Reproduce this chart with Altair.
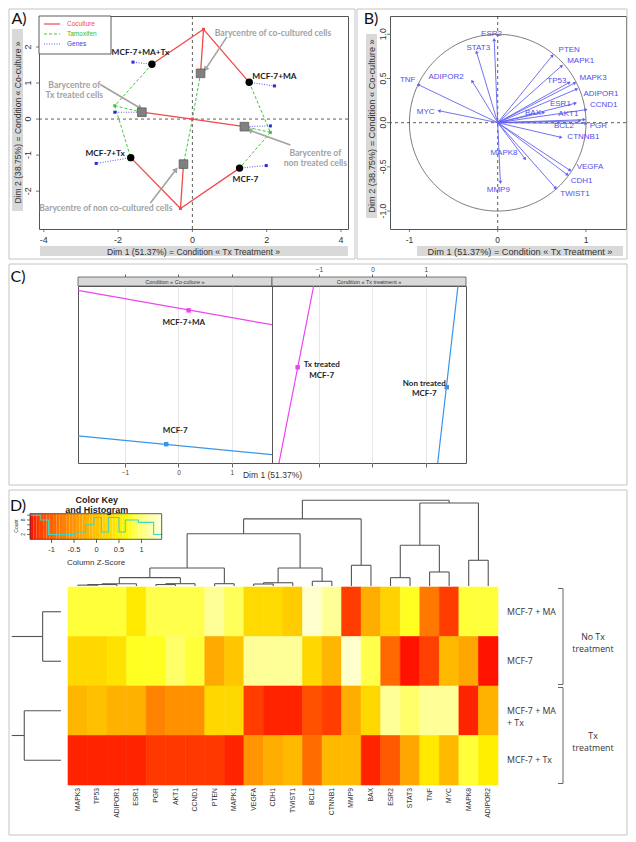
import math
import altair as alt
import numpy as np
import pandas as pd

AXF = "Liberation Sans"
LBF = "Lato"
OSF = "Open Sans"

# ---------------- Panel A : MFA map of the four conditions ----------------
cond_names = ["MCF-7+MA+Tx", "MCF-7+MA", "MCF-7+Tx", "MCF-7"]
cond_x = [-1.09, 1.53, -1.66, 1.27]
cond_y = [1.52, 1.02, -1.07, -1.36]
cond_lab_x = [-1.40, 2.21, -2.35, 1.43]
cond_lab_y = [1.84, 1.17, -0.96, -1.69]

bary_names = ["co-cultured", "Tx treated", "non treated", "non co-cultured"]
bary_x = [0.22, -1.36, 1.40, -0.24]
bary_y = [1.27, 0.19, -0.21, -1.25]

cocult_names = ["cc top", "cc bottom", "origin"]
cocult_x = [0.30, -0.32, 0.0]
cocult_y = [2.49, -2.48, 0.0]

tamox_names = ["tam left", "tam right"]
tamox_x = [-2.09, 2.10]
tamox_y = [0.37, -0.37]

genes_pt_names = ["g1", "g2", "g3", "g4", "g5", "g6"]
genes_pt_x = [-1.60, 2.21, -2.59, 1.99, -2.09, 2.10]
genes_pt_y = [1.58, 0.92, -1.23, -1.29, 0.19, -0.19]
genes_pt_from = ["MCF-7+MA+Tx", "MCF-7+MA", "MCF-7+Tx", "MCF-7", "Tx treated", "non treated"]

coculture_links = [("MCF-7+MA+Tx", "cc top"), ("cc top", "MCF-7+MA"), ("cc top", "co-cultured"),
                   ("MCF-7+Tx", "cc bottom"), ("cc bottom", "MCF-7"), ("cc bottom", "non co-cultured"),
                   ("Tx treated", "origin"), ("origin", "non treated")]
tamoxifen_links = [("MCF-7+MA+Tx", "tam left"), ("tam left", "MCF-7+Tx"), ("tam left", "Tx treated"),
                   ("MCF-7+MA", "tam right"), ("tam right", "MCF-7"), ("tam right", "non treated"),
                   ("co-cultured", "origin"), ("origin", "non co-cultured")]

annot_text = ["Barycentre of co-cultured cells", "Barycentre of\nTx treated cells",
              "Barycentre of\nnon treated cells", "Barycentre of non co-cultured cells"]
annot_x = [2.17, -3.18, 3.31, -2.33]
annot_y = [2.39, 0.94, -0.93, -2.46]
arrow_tail_x = [0.93, -2.48, 2.64, -1.13]
arrow_tail_y = [2.28, 0.96, -0.72, -2.33]
arrow_head_x = [0.35, -1.40, 1.54, -0.44]
arrow_head_y = [1.38, 0.30, -0.31, -1.40]

legend_names = ["Coculture", "Tamoxifen", "Genes"]
tickA_x = [-4, -2, 0, 2, 4]
tickA_y = [-2, -1, 0, 1, 2]

# ---------------- Panel B : correlation circle ----------------
b_genes = ["ESR2", "STAT3", "TNF", "ADIPOR2", "MYC", "PTEN", "MAPK1", "TP53", "MAPK3", "ADIPOR1",
           "CCND1", "ESR1", "BAX", "AKT1", "BCL2", "PGR", "CTNNB1", "MAPK8", "MMP9", "VEGFA",
           "CDH1", "TWIST1"]
b_x = [-0.04, -0.24, -0.90, -0.29, -0.665, 0.62, 0.725, 0.81, 0.875, 0.895,
       1.00, 0.88, 0.52, 0.98, 0.93, 1.00, 0.717, 0.31, 0.03, 0.82,
       0.79, 0.657]
b_y = [0.94, 0.80, 0.43, 0.47, 0.135, 0.76, 0.644, 0.455, 0.45, 0.38,
       0.147, 0.22, 0.116, 0.034, 0.02, -0.008, -0.166, -0.41, -0.675, -0.54,
       -0.59, -0.742]
b_lab_x = [-0.07, -0.22, -1.02, -0.585, -0.815, 0.81, 0.94, 0.67, 1.08, 1.17,
           1.20, 0.71, 0.40, 0.80, 0.75, 1.14, 0.97, 0.071, 0.007, 1.045,
           0.95, 0.875]
b_lab_y = [1.00, 0.85, 0.48, 0.52, 0.124, 0.82, 0.70, 0.47, 0.505, 0.33,
           0.20, 0.21, 0.11, 0.10, -0.034, -0.034, -0.166, -0.347, -0.76, -0.505,
           -0.66, -0.805]
tickB_x = [-1, 0, 1]
tickB_y = [-1.0, -0.5, 0.0, 0.5, 1.0]

# ---------------- Panel C : partial axes per condition ----------------
cc_names = ["MCF-7+MA", "MCF-7"]
cc_pt_x = [0.19, -0.23]
cc_pt_y = [1.21, -1.21]
cc_line_x1 = [-1.88, -1.88]
cc_line_y1 = [1.57, -1.06]
cc_line_x2 = [1.75, 1.75]
cc_line_y2 = [0.95, -1.40]
cc_lab_x = [0.10, -0.06]
cc_lab_y = [0.99, -0.98]

tx_names = ["Tx treated\nMCF-7", "Non treated\nMCF-7"]
tx_pt_x = [-1.40, 1.39]
tx_pt_y = [0.18, -0.18]
tx_line_x1 = [-1.10, 1.60]
tx_line_y1 = [1.65, 1.65]
tx_line_x2 = [-1.75, 1.22]
tx_line_y2 = [-1.55, -1.55]
tx_lab_x = [-0.95, 0.97]
tx_lab_y = [0.215, -0.12]

# ---------------- Panel D : heatmap ----------------
genes = ["MAPK3", "TP53", "ADIPOR1", "ESR1", "PGR", "AKT1", "CCND1", "PTEN", "MAPK1", "VEGFA",
         "CDH1", "TWIST1", "BCL2", "CTNNB1", "MMP9", "BAX", "ESR2", "STAT3", "TNF", "MYC",
         "MAPK8", "ADIPOR2"]
rows = ["MCF-7 + MA", "MCF-7", "MCF-7 + MA\n+ Tx", "MCF-7 + Tx"]
z_ma = [0.80, 0.80, 0.80, 0.45, 0.85, 0.85, 0.85, 1.15, 0.90, 0.27,
        0.27, 0.11, 1.40, 1.15, -1.27, -0.24, 0.18, 0.75, -0.79, -1.27,
        0.80, 0.80]
z_mcf7 = [0.25, 0.25, 0.38, 0.75, 0.75, 0.95, 0.80, -0.27, 0.04, 1.15,
          1.15, 1.15, 0.25, -0.14, 1.40, 0.85, -0.93, -1.45, -1.25, -0.10,
          -0.31, -1.45]
z_ma_tx = [-0.14, -0.03, -0.20, -0.20, -0.68, -0.55, -0.55, 0.25, 0.25, -1.27,
           -1.40, -1.40, -1.13, -1.27, -0.24, 0.25, 1.15, 0.95, 1.15, 1.15,
           -1.40, -0.17]
z_tx = [-1.40, -1.40, -1.40, -1.40, -1.30, -1.30, -1.30, -1.30, -1.40, -0.50,
        -0.24, -0.10, -0.90, -0.10, -0.10, -1.40, -1.06, -0.31, 0.45, -0.10,
        0.80, 0.52]
z_rows = [z_ma, z_mcf7, z_ma_tx, z_tx]

col_merges = [("MAPK3", "TP53", 0.10), ("m0", "ADIPOR1", 0.17), ("m1", "ESR1", 0.27),
              ("PGR", "AKT1", 0.17), ("m3", "CCND1", 0.27), ("m2", "m4", 0.97),
              ("PTEN", "MAPK1", 0.27), ("m5", "m6", 2.09), ("VEGFA", "CDH1", 0.23),
              ("m8", "TWIST1", 0.38), ("BCL2", "CTNNB1", 0.55), ("m9", "m10", 2.10),
              ("m7", "m11", 6.08), ("MMP9", "BAX", 2.41), ("m12", "m13", 7.80),
              ("ESR2", "STAT3", 0.97), ("TNF", "MYC", 1.63), ("m15", "m16", 4.73),
              ("MAPK8", "ADIPOR2", 2.99), ("m17", "m18", 9.65), ("m14", "m19", 9.97)]
row_merges = [("MCF-7 + MA", "MCF-7", 1.9), ("MCF-7 + MA\n+ Tx", "MCF-7 + Tx", 3.8)]
row_root = 5.1
row_groups = [("No Tx\ntreatment", ["MCF-7 + MA", "MCF-7"]),
              ("Tx\ntreatment", ["MCF-7 + MA\n+ Tx", "MCF-7 + Tx"])]

key_lo, key_mid, key_hi = -1.48, 0.72, 1.45
key_ticks = [-1, -0.5, 0, 0.5, 1]
hist_edges = [-1.47, -1.24, -1.07, -0.47, -0.24, -0.06, 0.11, 0.27, 0.50, 0.64, 0.93, 1.27, 1.46]
hist_counts = [10, 8, 2, 3, 6, 9, 3, 9, 3, 8, 7, 2]
count_ticks = [2, 4, 6, 8, 10]

# ====================== helpers ======================
one = pd.DataFrame({"k": [0]})


def qs(dom, rng=None):
    if rng is None:
        return alt.Scale(domain=dom, nice=False, zero=False)
    return alt.Scale(domain=dom, range=rng, nice=False, zero=False)


def box(x1, x2, y1, y2, **mk):
    return alt.Chart(one).mark_rect(**mk).encode(
        x=alt.value(x1), x2=alt.value(x2), y=alt.value(y1), y2=alt.value(y2))


def hline(x1, x2, y, **mk):
    return alt.Chart(one).mark_rule(**mk).encode(x=alt.value(x1), x2=alt.value(x2), y=alt.value(y))


def T(txt, x, y, size=9, color="#222222", font=AXF, weight="normal", align="center",
      baseline="middle", angle=0):
    kw = dict(text=txt, fontSize=size, color=color, font=font, fontWeight=weight,
              align=align, baseline=baseline)
    if angle:
        kw["angle"] = angle
    return alt.Chart(one).mark_text(**kw).encode(x=alt.value(x), y=alt.value(y))


def head_angle(dx, dy, sx, sy):
    return (math.degrees(math.atan2(dx * sx, dy * sy)) + 360.0) % 360.0


def tick_layers(xenc, yenc, xvals, yvals, xlabels, ylabels, height, size, xlab_off, ylab_off):
    """ticks and tick labels drawn through the panel's own x / y scales"""
    return [
        alt.Chart(pd.DataFrame({"x": xvals})).mark_rule(color="#555555", strokeWidth=0.8).encode(
            x=xenc(), y=alt.value(height), y2=alt.value(height + 3)),
        alt.Chart(pd.DataFrame({"x": xvals, "t": xlabels})).mark_text(
            font=AXF, fontSize=size, color="#333333").encode(
            x=xenc(), y=alt.value(height + xlab_off), text="t:N"),
        alt.Chart(pd.DataFrame({"y": yvals})).mark_rule(color="#555555", strokeWidth=0.8).encode(
            y=yenc(), x=alt.value(-3), x2=alt.value(0)),
        alt.Chart(pd.DataFrame({"y": yvals, "t": ylabels})).mark_text(
            font=AXF, fontSize=size, color="#333333", angle=270).encode(
            y=yenc(), x=alt.value(-ylab_off), text="t:N"),
    ]


RED, GREEN, BLUEA = "#EF4A4A", "#3CC83C", "#5A5AF5"
ANN = "#A2A2A2"
FRAME = "#C4C4C4"
TITLEBOX = "#D9D9D9"
DIM1 = "Dim 1 (51.37%) = Condition « Tx Treatment »"
DIM2 = "Dim 2 (38.75%) = Condition « Co-culture »"

# ====================== Panel A ======================
WA, HA = 309, 213
XA_DOM, YA_DOM = [-4.13, 4.19], [-3.05, 2.86]
sxA = WA / (XA_DOM[1] - XA_DOM[0])
syA = HA / (YA_DOM[1] - YA_DOM[0])


def xA():
    return alt.X("x:Q", scale=qs(XA_DOM), axis=None)


def yA():
    return alt.Y("y:Q", scale=qs(YA_DOM), axis=None)


ptsA = {}
for nm, xs, ys in ((cond_names, cond_x, cond_y), (bary_names, bary_x, bary_y),
                   (cocult_names, cocult_x, cocult_y), (tamox_names, tamox_x, tamox_y),
                   (genes_pt_names, genes_pt_x, genes_pt_y)):
    for n, px, py in zip(nm, xs, ys):
        ptsA[n] = (px, py)


def links_df(pairs):
    return pd.DataFrame([{"x": ptsA[a][0], "y": ptsA[a][1], "x2": ptsA[b][0], "y2": ptsA[b][1]}
                         for a, b in pairs])


def rulesA(df, **mk):
    return alt.Chart(df).mark_rule(**mk).encode(x=xA(), y=yA(), x2=alt.X2("x2"), y2=alt.Y2("y2"))


def ptsA_layer(xs, ys, **mk):
    return alt.Chart(pd.DataFrame({"x": xs, "y": ys})).mark_point(**mk).encode(x=xA(), y=yA())


arrows_df = pd.DataFrame({"x": arrow_tail_x, "y": arrow_tail_y, "x2": arrow_head_x, "y2": arrow_head_y})
heads_df = pd.DataFrame({
    "x": arrow_head_x, "y": arrow_head_y,
    "ang": [head_angle(hx - tx, hy - ty, sxA, syA)
            for tx, ty, hx, hy in zip(arrow_tail_x, arrow_tail_y, arrow_head_x, arrow_head_y)]})

A = alt.layer(
    box(-30, 316, -7, 243, fill="transparent", stroke=FRAME, strokeWidth=1),
    box(-27, -16, 13, 195, fill=TITLEBOX),
    box(1, 309, 230, 240, fill=TITLEBOX),
    T(DIM1, WA / 2, 235.5, size=8.6, color="#333333"),
    T(DIM2, -21.5, HA / 2, size=8.6, color="#333333", angle=270),
    *tick_layers(xA, yA, tickA_x, tickA_y, [str(v) for v in tickA_x], [str(v) for v in tickA_y],
                 HA, 9, 11, 11.5),
    alt.Chart(pd.DataFrame({"x": [0]})).mark_rule(color="#333333", strokeDash=[3, 3], strokeWidth=0.8).encode(x=xA()),
    alt.Chart(pd.DataFrame({"y": [0]})).mark_rule(color="#333333", strokeDash=[3, 3], strokeWidth=0.8).encode(y=yA()),
    rulesA(links_df(tamoxifen_links), color=GREEN, strokeDash=[3, 2], strokeWidth=1),
    rulesA(links_df(list(zip(genes_pt_from, genes_pt_names))), color=BLUEA, strokeDash=[1, 1.5], strokeWidth=1),
    rulesA(links_df(coculture_links), color=RED, strokeWidth=1.3),
    rulesA(arrows_df, color=ANN, strokeWidth=1.6),
    alt.Chart(heads_df).mark_point(shape="triangle-up", filled=True, size=38, color=ANN, opacity=1).encode(
        x=xA(), y=yA(), angle=alt.Angle("ang:Q", scale=None)),
    ptsA_layer(cocult_x, cocult_y, shape="square", filled=True, size=9, color=RED, opacity=1),
    ptsA_layer(tamox_x, tamox_y, shape="square", filled=True, size=9, color=GREEN, opacity=1),
    ptsA_layer(genes_pt_x, genes_pt_y, shape="square", filled=True, size=9, color="#2B2BE0", opacity=1),
    alt.Chart(pd.DataFrame({"x": bary_x, "y": bary_y})).mark_square(
        size=75, color="#808080", stroke="#5E5E5E", strokeWidth=0.8, opacity=1).encode(x=xA(), y=yA()),
    ptsA_layer(cond_x, cond_y, shape="circle", filled=True, size=55, color="black", opacity=1),
    alt.Chart(pd.DataFrame({"x": cond_lab_x, "y": cond_lab_y, "t": cond_names})).mark_text(
        font=LBF, fontSize=8.3, fontWeight="bold", color="#1A1A1A").encode(x=xA(), y=yA(), text="t:N"),
    alt.Chart(pd.DataFrame({"x": annot_x, "y": annot_y, "t": annot_text})).mark_text(
        font=LBF, fontSize=8.6, fontWeight="bold", color=ANN, lineBreak="\n", lineHeight=10).encode(
        x=xA(), y=yA(), text="t:N"),
    box(0, 72, 0, 38, fill="white", stroke="#333333", strokeWidth=0.8),
    hline(5, 21, 8, color=RED, strokeWidth=1.2),
    hline(5, 21, 18, color=GREEN, strokeWidth=1, strokeDash=[3, 2]),
    hline(5, 21, 28, color=BLUEA, strokeWidth=1, strokeDash=[1, 1.5]),
    T(legend_names[0], 28, 8, size=6.5, color=RED, align="left"),
    T(legend_names[1], 28, 18, size=6.5, color="#33BB33", align="left"),
    T(legend_names[2], 28, 28, size=6.5, color="#3A3AE8", align="left"),
    T("A)", -20, 3, size=16, font=LBF, color="#111111"),
).properties(width=WA, height=HA, view=alt.ViewBackground(stroke="#555555", strokeWidth=1))

# ====================== Panel B ======================
WB, HB = 236, 213
XB_DOM, YB_DOM = [-1.22, 1.453], [-1.203, 1.207]
sxB = WB / (XB_DOM[1] - XB_DOM[0])
syB = HB / (YB_DOM[1] - YB_DOM[0])
BARROW, BLAB = "#6262F0", "#5050EA"


def xB():
    return alt.X("x:Q", scale=qs(XB_DOM), axis=None)


def yB():
    return alt.Y("y:Q", scale=qs(YB_DOM), axis=None)


t_circ = np.linspace(0, 2 * np.pi, 241)
circle_df = pd.DataFrame({"x": np.cos(t_circ), "y": np.sin(t_circ), "i": np.arange(len(t_circ))})
barrow_df = pd.DataFrame({"x": [0.0] * len(b_x), "y": [0.0] * len(b_y), "x2": b_x, "y2": b_y})
bhead_df = pd.DataFrame({"x": b_x, "y": b_y,
                         "ang": [head_angle(gx, gy, sxB, syB) for gx, gy in zip(b_x, b_y)]})

B = alt.layer(
    box(-33, 237, -7, 243, fill="transparent", stroke=FRAME, strokeWidth=1),
    box(-24, -13, 18, 202, fill=TITLEBOX),
    box(27, 233, 230, 240, fill=TITLEBOX),
    T(DIM1, 130, 235.5, size=9.2, color="#333333"),
    T(DIM2, -18.5, 110, size=9.2, color="#333333", angle=270),
    *tick_layers(xB, yB, tickB_x, tickB_y, [str(v) for v in tickB_x], [f"{v:.1f}" for v in tickB_y],
                 HB, 8.5, 11, 7.5),
    alt.Chart(circle_df).mark_line(color="#7A7A7A", strokeWidth=1).encode(x=xB(), y=yB(), order="i:Q"),
    alt.Chart(pd.DataFrame({"x": [0]})).mark_rule(color="#333333", strokeDash=[3, 3], strokeWidth=0.8).encode(x=xB()),
    alt.Chart(pd.DataFrame({"y": [0]})).mark_rule(color="#333333", strokeDash=[3, 3], strokeWidth=0.8).encode(y=yB()),
    alt.Chart(barrow_df).mark_rule(color=BARROW, strokeWidth=0.9).encode(
        x=xB(), y=yB(), x2=alt.X2("x2"), y2=alt.Y2("y2")),
    alt.Chart(bhead_df).mark_point(shape="triangle-up", filled=True, size=14, color=BARROW, opacity=1).encode(
        x=xB(), y=yB(), angle=alt.Angle("ang:Q", scale=None)),
    alt.Chart(pd.DataFrame({"x": b_lab_x, "y": b_lab_y, "t": b_genes})).mark_text(
        font=AXF, fontSize=8, color=BLAB).encode(x=xB(), y=yB(), text="t:N"),
    T("B)", -19, 3, size=16, font=LBF, color="#111111"),
).properties(width=WB, height=HB, view=alt.ViewBackground(stroke="#555555", strokeWidth=1))

# ====================== Panel C ======================
WC, HC = 194, 177
XC_DOM, YC_DOM = [-1.88, 1.75], [-1.55, 1.65]
MAG, CBL = "#EE44EE", "#3A95E8"
GRID = "#E6E6E6"

common_ax = dict(labelFont=AXF, labelFontSize=6.5, labelColor="#444444", tickColor="#666666",
                 domain=False, gridColor=GRID)
axC_xb = alt.Axis(values=[-1, 0, 1], title="Dim 1 (51.37%)", titleX=WC, titleY=11,
                  titleAlign="center", titleBaseline="middle", titleFont=AXF, titleFontSize=8.5,
                  titleFontWeight="normal", titleColor="#333333", tickSize=4, labelPadding=2,
                  grid=True, **common_ax)
axC_yl = alt.Axis(values=[-1.5, -1, -0.5, 0, 0.5, 1, 1.5],
                  labelExpr="datum.value < -1.4 ? '' : format(datum.value, '.1f')",
                  title="Dim 2 (38.75%)", titleX=-26, titleY=76, titleAngle=270, titleAlign="center",
                  titleBaseline="middle", titleFont=AXF, titleFontSize=8.5, titleFontWeight="normal",
                  titleColor="#333333", tickSize=4, labelPadding=2, grid=True, **common_ax)
axC_xt_nolab = alt.Axis(orient="top", offset=9, values=[-1, 0, 1], labels=False, tickSize=3,
                        grid=False, title=None, **common_ax)
axC_xt_lab = alt.Axis(orient="top", offset=9, values=[-1, 0, 1], tickSize=3, labelPadding=2,
                      grid=False, title=None, **common_ax)
axC_xb_nolab = alt.Axis(values=[-1, 0, 1], labels=False, tickSize=4, grid=True, title=None, **common_ax)
axC_yr = alt.Axis(orient="right", values=[-1.5, -1, -0.5, 0, 0.5, 1, 1.5], labels=False, tickSize=4,
                  grid=True, title=None, **common_ax)


def xC(axis=None):
    return alt.X("x:Q", scale=qs(XC_DOM), axis=axis)


def yC(axis=None):
    return alt.Y("y:Q", scale=qs(YC_DOM), axis=axis)


def c_panel(strip, names, px, py, lx1, ly1, lx2, ly2, labx, laby, axx, axy, axx2, extra):
    lines = pd.DataFrame({"x": lx1, "y": ly1, "x2": lx2, "y2": ly2, "c": [MAG, CBL]})
    pts = pd.DataFrame({"x": px, "y": py, "c": [MAG, CBL]})
    labs = pd.DataFrame({"x": labx, "y": laby, "t": names})
    layers = list(extra) + [
        box(0, WC, -9, 0, fill=TITLEBOX, stroke="#555555", strokeWidth=0.8),
        T(strip, WC / 2, -4.5, size=5.5, color="#333333"),
        alt.Chart(lines).mark_rule(strokeWidth=1.2, clip=True).encode(
            x=xC(axx), y=yC(axy), x2=alt.X2("x2"), y2=alt.Y2("y2"),
            color=alt.Color("c:N", scale=None, legend=None)),
        alt.Chart(pts).mark_square(size=20, opacity=1).encode(
            x=xC(axx2), y=yC(), color=alt.Color("c:N", scale=None, legend=None)),
        alt.Chart(labs).mark_text(font=LBF, fontSize=8, fontWeight="bold", color="#1E1E1E",
                                  lineBreak="\n", lineHeight=10.5).encode(x=xC(), y=yC(), text="t:N"),
    ]
    return alt.layer(*layers).resolve_axis(x="independent").properties(
        width=WC, height=HC, view=alt.ViewBackground(stroke="#555555", strokeWidth=1))


C_left = c_panel("Condition « Co-culture »", cc_names, cc_pt_x, cc_pt_y, cc_line_x1, cc_line_y1,
                 cc_line_x2, cc_line_y2, cc_lab_x, cc_lab_y, axC_xb, axC_yl, axC_xt_nolab,
                 [box(-69, 549, -22, 199, fill="transparent", stroke=FRAME, strokeWidth=1),
                  T("C)", -60, -9, size=16, font=LBF, color="#111111")])
C_right = c_panel("Condition « Tx treatment »", tx_names, tx_pt_x, tx_pt_y, tx_line_x1, tx_line_y1,
                  tx_line_x2, tx_line_y2, tx_lab_x, tx_lab_y, axC_xb_nolab, axC_yr, axC_xt_lab, [])

# ====================== Panel D ======================
WD, HD = 430, 285
HEAT_TOP = 87
ncol = len(genes)
heat_color = alt.Scale(domain=[key_lo, key_mid, key_hi], range=["#FF0000", "#FFFF00", "#FFFFD8"])


def xH():
    return alt.X("x:Q", scale=qs([0, ncol], [0, WD]), axis=None)


def yH(f="y"):
    return alt.Y(f + ":Q", scale=qs([0, 4], [HD, HEAT_TOP]), axis=None)


heat_recs = []
for r, (rn, zr) in enumerate(zip(rows, z_rows)):
    for i, (g, zv) in enumerate(zip(genes, zr)):
        heat_recs.append({"x": i, "x2": i + 1, "y": 3 - r, "y2": 4 - r, "z": zv})
heat_df = pd.DataFrame(heat_recs)

# column dendrogram segments from merge heights
node_x = {g: i + 0.5 for i, g in enumerate(genes)}
node_h = {g: 0.0 for g in genes}
cseg = []
for k, (a, b, h) in enumerate(col_merges):
    xa, xb = node_x[a], node_x[b]
    cseg.append({"x": xa, "x2": xb, "y": h, "y2": h})
    cseg.append({"x": xa, "x2": xa, "y": node_h[a], "y2": h})
    cseg.append({"x": xb, "x2": xb, "y": node_h[b], "y2": h})
    node_x[f"m{k}"] = (xa + xb) / 2
    node_h[f"m{k}"] = h
cseg_df = pd.DataFrame(cseg)

# row dendrogram segments
row_y = {rn: 3.5 - r for r, rn in enumerate(rows)}
rseg = []
for a, b, h in row_merges:
    ya, yb = row_y[a], row_y[b]
    rseg.append({"h": 0.0, "h2": h, "y": ya, "y2": ya})
    rseg.append({"h": 0.0, "h2": h, "y": yb, "y2": yb})
    rseg.append({"h": h, "h2": h, "y": ya, "y2": yb})
    rseg.append({"h": h, "h2": row_root, "y": (ya + yb) / 2, "y2": (ya + yb) / 2})
rseg_df = pd.DataFrame(rseg)

# brackets for the treatment groups
brk, glab = [], []
for gname, members in row_groups:
    ys = [row_y[m] for m in members]
    top, bot = max(ys) + 0.5 - 0.03, min(ys) - 0.5 + 0.03
    brk.append({"y": top, "y2": bot})
    glab.append({"y": (top + bot) / 2, "t": gname})
brk_df = pd.DataFrame(brk)
brk_end_df = pd.DataFrame({"y": [b["y"] for b in brk] + [b["y2"] for b in brk]})
glab_df = pd.DataFrame(glab)

key_steps = np.linspace(key_lo, key_hi, 41)
key_df = pd.DataFrame({"x": key_steps[:-1], "x2": key_steps[1:], "z": (key_steps[:-1] + key_steps[1:]) / 2})
hist_df = pd.DataFrame({"x": hist_edges, "y": hist_counts + [hist_counts[-1]]})
KX = qs([key_lo, key_hi], [-38, 93.7])
KY = qs([0, 10.6], [39.3, 13.7])

D = alt.layer(
    box(-59, 559, -10, 335, fill="transparent", stroke=FRAME, strokeWidth=1),
    T("D)", -50, 6, size=16, font=LBF, color="#111111"),
    alt.Chart(heat_df).mark_rect(strokeWidth=0.6).encode(
        x=xH(), x2=alt.X2("x2"), y=yH(), y2=alt.Y2("y2"),
        color=alt.Color("z:Q", scale=heat_color, legend=None),
        stroke=alt.Stroke("z:Q", scale=heat_color, legend=None)),
    alt.Chart(cseg_df).mark_rule(color="#555555", strokeWidth=1.1).encode(
        x=xH(), x2=alt.X2("x2"),
        y=alt.Y("y:Q", scale=qs([0, 10], [86, 0]), axis=None), y2=alt.Y2("y2")),
    alt.Chart(rseg_df).mark_rule(color="#555555", strokeWidth=1.1).encode(
        x=alt.X("h:Q", scale=qs([0, row_root], [-7, -56.3]), axis=None), x2=alt.X2("h2"),
        y=yH(), y2=alt.Y2("y2")),
    alt.Chart(pd.DataFrame({"x": [i + 0.5 for i in range(ncol)], "t": genes})).mark_text(
        font=AXF, fontSize=6.8, color="#333333", angle=270, align="right", baseline="middle").encode(
        x=xH(), y=alt.value(HD + 3), text="t:N"),
    alt.Chart(pd.DataFrame({"y": [row_y[rn] for rn in rows], "t": rows})).mark_text(
        font=OSF, fontSize=8.8, color="#333333", align="left", baseline="middle", lineBreak="\n",
        lineHeight=12).encode(x=alt.value(439), y=yH(), text="t:N"),
    alt.Chart(brk_df).mark_rule(color="#666666", strokeWidth=1).encode(
        x=alt.value(495), y=yH(), y2=alt.Y2("y2")),
    alt.Chart(brk_end_df).mark_rule(color="#666666", strokeWidth=1).encode(
        x=alt.value(490), x2=alt.value(495), y=yH()),
    alt.Chart(glab_df).mark_text(font=OSF, fontSize=8.8, color="#333333", lineBreak="\n",
                                 lineHeight=12).encode(x=alt.value(525), y=yH(), text="t:N"),
    # colour key and histogram
    alt.Chart(key_df).mark_rect().encode(
        x=alt.X("x:Q", scale=KX, axis=None), x2=alt.X2("x2"), y=alt.value(13.7), y2=alt.value(39.3),
        color=alt.Color("z:Q", scale=heat_color, legend=None)),
    alt.Chart(hist_df).mark_line(interpolate="step-after", color="#3CD6C8", strokeWidth=1.1).encode(
        x=alt.X("x:Q", scale=KX, axis=None), y=alt.Y("y:Q", scale=KY, axis=None)),
    box(-38, 93.7, 13.7, 39.3, fill="transparent", stroke="#333333", strokeWidth=0.8),
    alt.Chart(pd.DataFrame({"x": key_ticks})).mark_rule(color="#333333", strokeWidth=0.8).encode(
        x=alt.X("x:Q", scale=KX, axis=None), y=alt.value(39.3), y2=alt.value(43)),
    alt.Chart(pd.DataFrame({"x": key_ticks, "t": ["-1", "-0.5", "0", "0.5", "1"]})).mark_text(
        font=AXF, fontSize=7.5, color="#333333").encode(
        x=alt.X("x:Q", scale=KX, axis=None), y=alt.value(50), text="t:N"),
    alt.Chart(pd.DataFrame({"y": count_ticks})).mark_rule(color="#333333", strokeWidth=0.7).encode(
        y=alt.Y("y:Q", scale=KY, axis=None), x=alt.value(-41), x2=alt.value(-38)),
    alt.Chart(pd.DataFrame({"y": [2, 8], "t": ["2", "8"]})).mark_text(
        font=AXF, fontSize=5, color="#333333", angle=270).encode(
        y=alt.Y("y:Q", scale=KY, axis=None), x=alt.value(-45), text="t:N"),
    T("Count", -52, 26, size=5, color="#333333", angle=270),
    T("Color Key", 28.7, -0.5, size=9, weight="bold", color="#222222"),
    T("and Histogram", 28.7, 9.5, size=9, weight="bold", color="#222222"),
    T("Column Z-Score", 28, 63, size=8, color="#333333"),
).resolve_scale(x="independent", y="independent", color="independent", stroke="independent").properties(
    width=WD, height=HD)


def spacer(w):
    return alt.Chart(one).mark_point(opacity=0).encode(x=alt.value(0), y=alt.value(0)).properties(
        width=w, height=1)


row1 = alt.hconcat(A, B, spacing=42, bounds="flush")
row2 = alt.hconcat(spacer(39), C_left, C_right, spacing=0, bounds="flush")
row3 = alt.hconcat(spacer(29), D, spacing=0, bounds="flush")
chart = alt.vconcat(row1, row2, row3, spacing=3, bounds="full").properties(
    padding=0).configure_view(stroke=None)

chart.save("out.html", embed_options={"renderer": "svg", "actions": False})
